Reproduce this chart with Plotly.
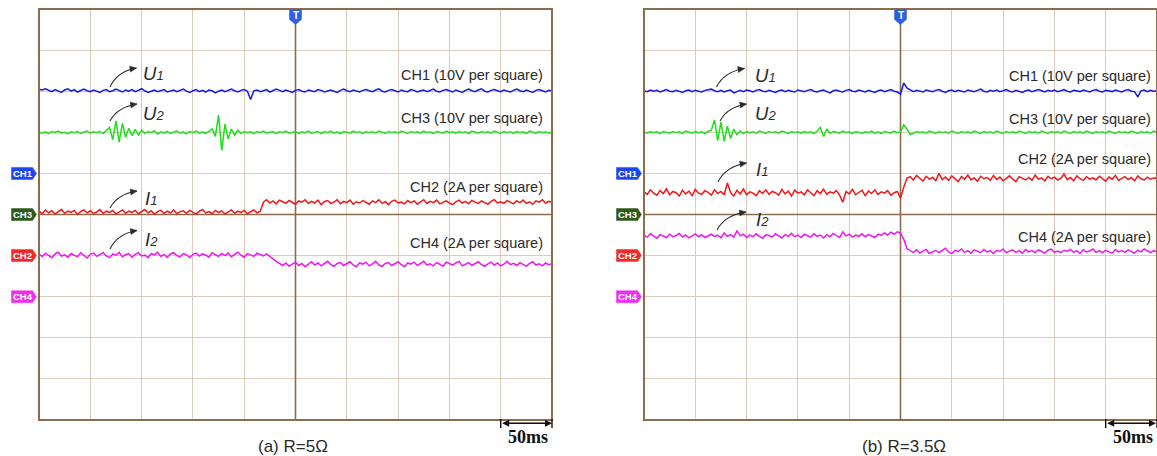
import numpy as np
import plotly.graph_objects as go

W, H = 1157, 456

# ---------------- data (values in screen divisions, 0..10 bottom->top) ----------------
# panel (a) R=5 ohm
U1_A = [8.05, 8.03, 8.06, 8.02, 7.99, 8.04, 8.01, 7.97, 8.03, 8.06,
        8.00, 8.04, 7.98, 8.02, 8.05, 8.01, 7.99, 8.03, 8.00, 7.97,
        8.02, 8.04, 7.99, 8.01, 8.05, 8.02, 7.98, 8.03, 8.00, 8.04,
        7.99, 8.02, 8.06, 8.01, 7.97, 8.00, 8.03, 7.99, 8.02, 8.04,
        7.98, 8.01, 8.03, 7.99, 8.02, 8.05, 8.00, 7.97, 8.01, 8.04,
        7.99, 8.02, 7.98, 8.03, 8.01, 7.96, 8.00, 8.03, 7.99, 8.02,
        8.05, 8.01, 7.98, 8.02, 8.04, 8.00, 7.80, 8.01, 8.03, 7.99,
        8.02, 8.04, 7.98, 8.01, 8.05, 8.02, 7.99, 8.03, 8.00, 7.97,
        8.02, 8.04, 8.00, 7.98, 8.03, 8.01, 7.99, 8.04, 8.02, 7.98,
        8.01, 8.03, 8.00, 7.97, 8.02, 8.05, 8.01, 7.99, 8.03, 8.00,
        7.98, 8.02, 8.04, 8.01, 7.99, 8.03, 8.06, 8.00, 7.98, 8.02,
        8.04, 8.01, 7.98, 8.03, 8.00, 7.99, 8.04, 8.02, 7.98, 8.01,
        8.03, 7.99, 8.02, 8.05, 8.00, 7.98, 8.02, 8.04, 8.01, 7.98,
        8.03, 8.00, 7.97, 8.02, 8.05, 8.01, 7.99, 8.03, 8.06, 8.00,
        7.98, 8.02, 8.04, 8.01, 7.99, 8.03, 8.00, 7.98, 8.02, 8.05,
        8.01, 7.99, 8.03, 8.00, 7.97, 8.02, 8.04, 8.01, 7.98, 8.02,
        8.01]
U2_A = [7.00, 6.98, 7.01, 6.97, 7.02, 6.99, 7.03, 6.98, 7.00, 6.96,
        7.01, 6.99, 7.02, 6.97, 7.00, 7.03, 6.98, 7.01, 6.99, 7.02,
        6.97, 7.04, 7.12, 6.82, 7.28, 6.76, 7.22, 6.88, 7.10, 6.92,
        7.07, 6.94, 7.05, 6.97, 7.02, 6.99, 7.04, 6.96, 7.01, 6.98,
        7.02, 6.97, 7.00, 7.03, 6.98, 7.01, 6.96, 7.02, 6.99, 7.03,
        6.98, 7.01, 6.97, 7.03, 7.08, 6.90, 7.42, 6.56, 7.20, 6.84,
        7.08, 6.93, 7.05, 6.97, 7.02, 6.99, 7.01, 6.97, 7.02, 6.99,
        7.03, 6.98, 7.00, 7.02, 6.97, 7.01, 6.99, 7.03, 6.98, 7.00,
        7.02, 6.97, 7.01, 6.99, 7.03, 6.98, 7.00, 7.02, 6.97, 7.01,
        6.99, 7.03, 6.98, 7.01, 6.97, 7.02, 7.00, 6.98, 7.03, 6.99,
        7.01, 6.97, 7.02, 6.99, 7.01, 6.98, 7.03, 7.00, 6.97, 7.02,
        6.99, 7.01, 6.98, 7.03, 7.00, 6.97, 7.02, 6.99, 7.01, 6.98,
        7.03, 6.99, 7.01, 6.97, 7.02, 7.00, 6.98, 7.03, 6.99, 7.01,
        6.98, 7.02, 6.99, 7.01, 6.97, 7.03, 7.00, 6.98, 7.02, 6.99,
        7.01, 6.98, 7.03, 7.00, 6.97, 7.02, 6.99, 7.01, 6.98, 7.02,
        6.99, 7.01, 6.97, 7.03, 7.00, 6.98, 7.02, 6.99, 7.01, 6.98,
        7.01]
I1_A = [5.08, 5.02, 5.11, 5.04, 5.09, 5.01, 5.07, 5.12, 5.03, 5.08,
        5.05, 5.10, 5.00, 5.07, 5.11, 5.04, 5.09, 5.02, 5.06, 5.12,
        5.03, 5.08, 5.05, 5.10, 5.01, 5.07, 5.11, 5.03, 5.08, 5.05,
        5.10, 5.02, 5.06, 5.12, 5.04, 5.09, 5.01, 5.07, 5.10, 5.03,
        5.08, 5.04, 5.11, 5.02, 5.07, 5.09, 5.03, 5.10, 5.05, 5.01,
        5.08, 5.12, 5.04, 5.07, 5.02, 5.10, 5.05, 5.09, 5.01, 5.07,
        5.11, 5.03, 5.08, 5.05, 5.10, 5.02, 5.07, 5.11, 5.04, 5.08,
        5.30, 5.36, 5.28, 5.33, 5.26, 5.35, 5.31, 5.27, 5.34, 5.29,
        5.25, 5.33, 5.30, 5.36, 5.27, 5.32, 5.28, 5.35, 5.24, 5.31,
        5.34, 5.27, 5.30, 5.36, 5.26, 5.32, 5.29, 5.35, 5.25, 5.31,
        5.28, 5.34, 5.30, 5.25, 5.33, 5.29, 5.36, 5.27, 5.31, 5.24,
        5.32, 5.35, 5.28, 5.30, 5.26, 5.34, 5.29, 5.33, 5.25, 5.31,
        5.36, 5.27, 5.32, 5.29, 5.35, 5.26, 5.30, 5.33, 5.28, 5.24,
        5.31, 5.35, 5.28, 5.32, 5.26, 5.34, 5.30, 5.27, 5.33, 5.29,
        5.25, 5.32, 5.36, 5.28, 5.31, 5.27, 5.34, 5.30, 5.26, 5.33,
        5.29, 5.35, 5.27, 5.31, 5.25, 5.33, 5.30, 5.36, 5.28, 5.32,
        5.30]
I2_A = [4.03, 3.98, 4.06, 4.00, 3.95, 4.04, 4.08, 3.99, 4.02, 3.96,
        4.05, 4.01, 3.97, 4.07, 4.00, 3.94, 4.03, 4.06, 3.98, 4.02,
        4.07, 3.99, 3.95, 4.04, 4.01, 4.08, 3.97, 4.02, 4.05, 3.96,
        4.03, 4.07, 3.99, 4.01, 3.95, 4.05, 4.02, 4.08, 3.98, 4.03,
        3.96, 4.04, 4.07, 4.00, 3.97, 4.05, 4.02, 3.95, 4.03, 4.06,
        3.99, 4.04, 4.01, 3.96, 4.07, 4.02, 3.98, 4.05, 4.00, 4.06,
        3.97, 4.03, 4.08, 4.01, 3.96, 4.05, 4.02, 3.98, 4.06, 4.03,
        3.99, 4.04, 3.97, 3.92, 3.86, 3.80, 3.76, 3.82, 3.74, 3.79,
        3.84, 3.76, 3.81, 3.73, 3.79, 3.85, 3.77, 3.82, 3.75, 3.80,
        3.86, 3.78, 3.74, 3.81, 3.83, 3.76, 3.80, 3.85, 3.77, 3.73,
        3.82, 3.79, 3.84, 3.75, 3.80, 3.86, 3.77, 3.74, 3.81, 3.83,
        3.76, 3.80, 3.85, 3.78, 3.73, 3.82, 3.79, 3.84, 3.76, 3.81,
        3.86, 3.77, 3.80, 3.75, 3.83, 3.79, 3.74, 3.84, 3.80, 3.77,
        3.82, 3.86, 3.75, 3.79, 3.83, 3.76, 3.81, 3.85, 3.78, 3.74,
        3.80, 3.84, 3.77, 3.82, 3.75, 3.79, 3.86, 3.78, 3.81, 3.76,
        3.83, 3.79, 3.74, 3.81, 3.85, 3.77, 3.80, 3.75, 3.82, 3.78,
        3.80]

# panel (b) R=3.5 ohm
U1_B = [8.01, 7.99, 8.03, 8.00, 8.02, 7.98, 8.01, 8.04, 8.00, 7.99,
        8.02, 8.00, 7.97, 8.01, 8.03, 7.99, 8.02, 8.00, 7.98, 8.02,
        8.03, 8.05, 8.01, 7.99, 8.02, 7.98, 8.01, 8.03, 7.96, 8.00,
        8.02, 7.99, 8.03, 8.01, 7.98, 8.02, 8.04, 8.00, 7.99, 8.02,
        8.00, 7.97, 8.01, 8.03, 7.99, 8.02, 8.00, 7.98, 8.03, 8.01,
        7.99, 8.02, 8.04, 8.00, 7.98, 8.01, 8.03, 7.99, 7.96, 8.01,
        8.03, 8.00, 7.98, 8.02, 8.04, 8.00, 7.99, 8.03, 8.01, 7.98,
        8.02, 8.00, 7.97, 8.01, 8.03, 7.99, 8.02, 8.04, 8.00, 7.98,
        7.93, 8.20, 8.08, 8.03, 7.99, 8.02, 8.00, 7.98, 8.03, 8.01,
        7.99, 8.02, 8.04, 8.00, 7.97, 8.01, 8.03, 7.99, 8.02, 8.00,
        7.98, 8.03, 8.01, 7.99, 8.02, 8.05, 8.00, 7.98, 8.02, 8.00,
        8.03, 7.99, 8.01, 8.04, 8.00, 7.98, 8.02, 8.00, 7.97, 8.01,
        8.03, 7.99, 8.02, 8.04, 8.01, 7.98, 8.02, 8.00, 8.03, 7.99,
        8.01, 8.04, 8.00, 7.98, 8.02, 8.00, 7.99, 8.03, 8.01, 7.98,
        8.02, 8.04, 8.00, 7.98, 8.02, 8.01, 7.99, 8.03, 8.00, 7.98,
        8.02, 8.04, 8.00, 7.99, 7.86, 8.01, 8.03, 7.99, 8.02, 8.00,
        8.01]
U2_B = [7.01, 6.98, 7.02, 6.99, 7.01, 6.97, 7.02, 7.00, 6.98, 7.02,
        6.99, 7.01, 6.97, 7.03, 7.00, 6.98, 7.02, 6.99, 7.01, 6.97,
        7.02, 7.05, 7.30, 6.80, 7.25, 6.78, 7.15, 6.85, 7.08, 6.94,
        7.03, 6.97, 7.02, 6.99, 7.01, 6.98, 7.03, 7.00, 6.97, 7.02,
        6.99, 7.01, 6.98, 7.03, 7.00, 6.97, 7.02, 6.99, 7.01, 6.98,
        7.02, 6.99, 7.01, 6.97, 7.03, 7.12, 6.90, 7.08, 6.97, 7.02,
        7.00, 6.98, 7.03, 6.99, 7.01, 6.97, 7.02, 7.00, 6.98, 7.01,
        6.99, 7.03, 6.98, 7.01, 6.97, 7.02, 7.00, 6.98, 7.03, 6.99,
        7.01, 7.18, 7.08, 6.95, 6.97, 7.02, 6.99, 7.01, 6.98, 7.03,
        7.00, 6.97, 7.02, 6.99, 7.01, 6.98, 7.03, 7.00, 6.97, 7.02,
        6.99, 7.01, 6.98, 7.03, 7.00, 6.97, 7.02, 6.99, 7.01, 6.98,
        7.03, 7.00, 6.97, 7.02, 6.99, 7.01, 6.98, 7.03, 7.00, 6.97,
        7.02, 6.99, 7.01, 6.98, 7.03, 7.00, 6.97, 7.02, 6.99, 7.01,
        6.98, 7.03, 7.00, 6.97, 7.02, 6.99, 7.01, 6.98, 7.03, 7.00,
        6.97, 7.02, 6.99, 7.01, 6.98, 7.03, 7.00, 6.97, 7.02, 6.99,
        7.01, 6.98, 7.03, 7.00, 6.97, 7.02, 6.99, 7.01, 6.98, 7.03,
        7.00]
I1_B = [5.55, 5.49, 5.60, 5.52, 5.47, 5.58, 5.51, 5.62, 5.48, 5.56,
        5.53, 5.45, 5.59, 5.50, 5.57, 5.46, 5.61, 5.52, 5.49, 5.58,
        5.54, 5.47, 5.60, 5.51, 5.56, 5.48, 5.77, 5.53, 5.45, 5.59,
        5.50, 5.62, 5.48, 5.55, 5.52, 5.46, 5.58, 5.51, 5.60, 5.49,
        5.56, 5.53, 5.47, 5.61, 5.50, 5.57, 5.45, 5.59, 5.52, 5.55,
        5.48, 5.60, 5.53, 5.46, 5.58, 5.51, 5.62, 5.49, 5.55, 5.52,
        5.58, 5.47, 5.30, 5.56, 5.50, 5.61, 5.48, 5.54, 5.59, 5.46,
        5.57, 5.51, 5.60, 5.49, 5.55, 5.52, 5.58, 5.47, 5.53, 5.56,
        5.40, 5.66, 5.88, 5.92, 5.84, 5.95, 5.87, 5.81, 5.93, 5.86,
        5.90, 5.82, 6.00, 5.85, 5.91, 5.83, 5.94, 5.88, 5.80, 5.92,
        5.86, 5.96, 5.84, 5.89, 5.81, 5.93, 5.87, 5.90, 5.83, 5.95,
        5.85, 5.91, 5.82, 5.88, 5.94, 5.86, 5.80, 5.92, 5.87, 5.84,
        5.90, 5.83, 5.96, 5.86, 5.89, 5.82, 5.93, 5.87, 5.91, 5.84,
        5.88, 5.99, 5.85, 5.90, 5.82, 5.94, 5.87, 5.83, 5.92, 5.86,
        5.89, 5.84, 5.93, 5.87, 5.81, 5.91, 5.86, 5.95, 5.83, 5.88,
        5.92, 5.85, 5.90, 5.82, 5.94, 5.87, 5.84, 5.91, 5.86, 5.89,
        5.88]
I2_B = [4.50, 4.45, 4.53, 4.47, 4.42, 4.51, 4.48, 4.44, 4.52, 4.46,
        4.49, 4.54, 4.45, 4.50, 4.43, 4.48, 4.53, 4.46, 4.51, 4.44,
        4.49, 4.52, 4.46, 4.50, 4.43, 4.55, 4.47, 4.51, 4.45, 4.60,
        4.48, 4.52, 4.44, 4.50, 4.46, 4.53, 4.47, 4.42, 4.51, 4.49,
        4.45, 4.53, 4.48, 4.43, 4.51, 4.47, 4.54, 4.46, 4.50, 4.44,
        4.52, 4.48, 4.45, 4.53, 4.47, 4.50, 4.43, 4.51, 4.46, 4.54,
        4.49, 4.44, 4.58, 4.48, 4.52, 4.45, 4.50, 4.47, 4.53, 4.46,
        4.51, 4.48, 4.44, 4.52, 4.49, 4.55, 4.50, 4.57, 4.52, 4.58,
        4.55, 4.40, 4.17, 4.12, 4.08, 4.14, 4.06, 4.11, 4.15, 4.05,
        4.10, 4.13, 4.07, 4.12, 4.18, 4.09, 4.05, 4.13, 4.10, 4.16,
        4.08, 4.12, 4.06, 4.14, 4.10, 4.07, 4.15, 4.09, 4.12, 4.05,
        4.13, 4.10, 4.16, 4.07, 4.11, 4.14, 4.08, 4.12, 4.06, 4.15,
        4.09, 4.12, 4.07, 4.14, 4.10, 4.06, 4.13, 4.16, 4.08, 4.11,
        4.07, 4.13, 4.10, 4.15, 4.08, 4.12, 4.05, 4.14, 4.09, 4.11,
        4.16, 4.08, 4.12, 4.07, 4.13, 4.10, 4.06, 4.15, 4.09, 4.12,
        4.08, 4.14, 4.10, 4.06, 4.13, 4.09, 4.16, 4.11, 4.07, 4.12,
        4.10]

CHANNEL_LABELS = ["CH1 (10V per square)", "CH3 (10V per square)",
                  "CH2 (2A per square)", "CH4 (2A per square)"]
CH_TAGS = ["CH1", "CH3", "CH2", "CH4"]
CH_TAG_LEVELS = [6, 5, 4, 3]
PANEL_CAPTIONS = ["(a) R=5Ω", "(b) R=3.5Ω"]
SCALE_TEXT = "50ms"

# ---------------- styling ----------------
C_BLUE, C_GREEN, C_RED, C_MAG = "#1818e8", "#1ee01e", "#f01818", "#ee18ee"
TAG_COLORS = ["#1e46f0", "#2e5a1c", "#f02a2a", "#ee30ee"]
GRID = "#dccbbb"
FRAME = "#8c6c4c"
TXT = "#2a2a2a"

def px(x):
    return x / W

def py(y):
    return 1 - y / H

TOP, BOT = 9, 420
PANELS = [
    dict(x0=39, x1=552, series=[U1_A, U2_A, I1_A, I2_A],
         label_x=545, label_y=[75, 118, 187, 243], caption_x=256,
         ann=[("U", "1", (110, 87), (136.5, 68), (141, 74)),
              ("U", "2", (110, 121), (137, 104), (140.5, 113.5)),
              ("I", "1", (110, 208), (137, 191), (143, 198)),
              ("I", "2", (110, 249), (137, 230.5), (143, 239))]),
    dict(x0=644, x1=1157, series=[U1_B, U2_B, I1_B, I2_B],
         label_x=1153, label_y=[76, 118.5, 158.5, 236.5], caption_x=860,
         ann=[("U", "1", (716.5, 87), (744.5, 68.5), (753, 75)),
              ("U", "2", (720, 121), (746.5, 104), (752.5, 113.5)),
              ("I", "1", (718, 182), (746.5, 163), (754, 170)),
              ("I", "2", (717, 230), (746, 212), (754, 219))]),
]
COLORS = [C_BLUE, C_GREEN, C_RED, C_MAG]

fig = go.Figure()
shapes = []
annotations = []

for k, P in enumerate(PANELS):
    sfx = "" if k == 0 else str(k + 1)
    xa, ya = "x" + sfx, "y" + sfx
    for vals, col in zip(P["series"], COLORS):
        fig.add_trace(go.Scatter(
            x=np.linspace(0, 10, len(vals)), y=vals, mode="lines",
            line=dict(color=col, width=1.5), xaxis=xa, yaxis=ya,
            hoverinfo="skip", showlegend=False))
    axcommon = dict(range=[0, 10], dtick=1, tick0=0, showgrid=True,
                    gridcolor=GRID, gridwidth=1.3, zeroline=False,
                    showticklabels=False, ticks="", showline=False,
                    fixedrange=True)
    fig.update_layout(**{
        "xaxis" + sfx: dict(domain=[px(P["x0"]), px(P["x1"])], anchor=ya, **axcommon),
        "yaxis" + sfx: dict(domain=[py(BOT), py(TOP)], anchor=xa, **axcommon),
    })
    # centre cross lines
    shapes.append(dict(type="line", xref=xa, yref=ya, x0=5, x1=5, y0=0, y1=10,
                       line=dict(color=FRAME, width=1.6), layer="between"))
    shapes.append(dict(type="line", xref=xa, yref=ya, x0=0, x1=10, y0=5, y1=5,
                       line=dict(color=FRAME, width=1.6), layer="between"))
    # frame
    shapes.append(dict(type="rect", xref="paper", yref="paper",
                       x0=px(P["x0"]), x1=px(P["x1"]), y0=py(BOT), y1=py(TOP),
                       line=dict(color=FRAME, width=2), layer="above"))
    # trigger marker
    cx = (P["x0"] + P["x1"]) / 2
    pts = [(cx - 6, 9.5), (cx + 6, 9.5), (cx + 6, 19.5), (cx, 24.5), (cx - 6, 19.5)]
    shapes.append(dict(type="path", xref="paper", yref="paper",
                       path="M " + " L ".join(f"{px(a)},{py(b)}" for a, b in pts) + " Z",
                       fillcolor="#2d5fe0", line=dict(color="#2d5fe0", width=0.5),
                       layer="above"))
    annotations.append(dict(x=px(cx), y=py(15.5), xref="paper", yref="paper",
                            text="<b>T</b>", showarrow=False,
                            font=dict(color="white", size=10, family="Liberation Sans"),
                            xanchor="center", yanchor="middle"))
    # channel tags
    for name, lvl, col in zip(CH_TAGS, CH_TAG_LEVELS, TAG_COLORS):
        yc = BOT - lvl * (BOT - TOP) / 10
        xl, xr = P["x0"] - 27.5, P["x0"] - 2.5
        pts = [(xl, yc - 6), (xr - 4, yc - 6), (xr, yc), (xr - 4, yc + 6), (xl, yc + 6)]
        shapes.append(dict(type="path", xref="paper", yref="paper",
                           path="M " + " L ".join(f"{px(a)},{py(b)}" for a, b in pts) + " Z",
                           fillcolor=col, line=dict(color=col, width=0.5)))
        annotations.append(dict(x=px(xl + 11), y=py(yc), xref="paper", yref="paper",
                                text=f"<b>{name}</b>", showarrow=False,
                                font=dict(color="white", size=9.5, family="Liberation Sans"),
                                xanchor="center", yanchor="middle"))
    # channel scale labels
    for txt, ly in zip(CHANNEL_LABELS, P["label_y"]):
        annotations.append(dict(x=px(P["label_x"]), y=py(ly), xref="paper", yref="paper",
                                text=txt, showarrow=False, xanchor="right", yanchor="middle",
                                font=dict(color=TXT, size=14.5, family="Liberation Sans")))
    # curved arrows with U/I labels
    for sym, sub, (x0, y0), (x1, y1), (tx, ty) in P["ann"]:
        ccx, ccy = x0 + 0.27 * (x1 - x0), y1 + 0.18 * (y0 - y1)
        shapes.append(dict(type="path", xref="paper", yref="paper",
                           path=f"M {px(x0)},{py(y0)} Q {px(ccx)},{py(ccy)} {px(x1)},{py(y1)}",
                           line=dict(color=TXT, width=1.1)))
        dx, dy = x1 - ccx, y1 - ccy
        n = (dx * dx + dy * dy) ** 0.5
        ux, uy = dx / n, dy / n
        L, Wd = 6.5, 3.0
        bx, by = x1 - L * ux, y1 - L * uy
        tri = [(x1, y1), (bx - Wd * uy, by + Wd * ux), (bx + Wd * uy, by - Wd * ux)]
        shapes.append(dict(type="path", xref="paper", yref="paper",
                           path="M " + " L ".join(f"{px(a)},{py(b)}" for a, b in tri) + " Z",
                           fillcolor=TXT, line=dict(color=TXT, width=0.5)))
        annotations.append(dict(x=px(tx), y=py(ty), xref="paper", yref="paper",
                                text=f"<i>{sym}<span style='font-size:13px'>{sub}</span></i>",
                                showarrow=False, xanchor="left", yanchor="middle",
                                font=dict(color=TXT, size=18.5, family="Liberation Sans")))
    # caption
    annotations.append(dict(x=px(P["caption_x"]), y=py(446.5), xref="paper", yref="paper",
                            text=PANEL_CAPTIONS[k], showarrow=False, xanchor="left",
                            yanchor="middle",
                            font=dict(color=TXT, size=17, family="Liberation Sans")))
    # 50 ms scale bar
    sx0, sx1, sy = P["x1"] - 51.3, P["x1"], 423.3
    annotations.append(dict(x=px(sx1), y=py(sy), xref="paper", yref="paper",
                            ax=-(sx1 - sx0), ay=0, axref="pixel", ayref="pixel",
                            text="", showarrow=True, arrowside="end+start",
                            arrowhead=2, startarrowhead=2, arrowsize=1, startarrowsize=1,
                            arrowwidth=1.4, arrowcolor="#111", standoff=0, startstandoff=0))
    for xx in (sx0, sx1):
        shapes.append(dict(type="line", xref="paper", yref="paper",
                           x0=px(xx), x1=px(xx), y0=py(419), y1=py(428),
                           line=dict(color="#111", width=1.4)))
    annotations.append(dict(x=px(sx1 - 24), y=py(436.5), xref="paper", yref="paper",
                            text=f"<b>{SCALE_TEXT}</b>", showarrow=False,
                            xanchor="center", yanchor="middle",
                            font=dict(color="#111", size=18, family="Liberation Serif")))

fig.update_layout(width=W, height=H, margin=dict(l=0, r=0, t=0, b=0),
                  paper_bgcolor="white", plot_bgcolor="white",
                  shapes=shapes, annotations=annotations, showlegend=False)
fig.write_html("out.html")
